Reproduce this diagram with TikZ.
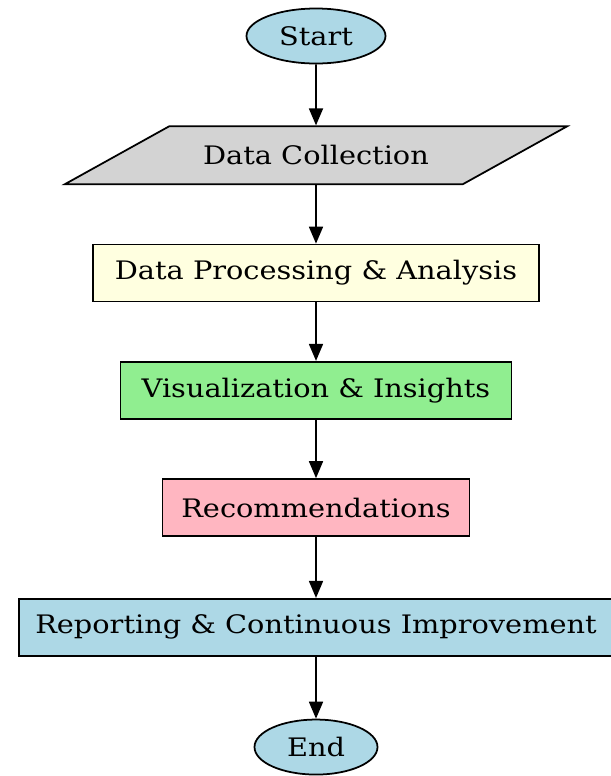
\documentclass[tikz,border=0pt]{standalone}
\usepackage{fontspec}
\setmainfont{DejaVu Serif}[FakeStretch=1.13]
\usepackage{tikz}
\usetikzlibrary{positioning,shapes.geometric,arrows.meta}
\definecolor{lblue}{RGB}{173,216,230}
\definecolor{lgray}{RGB}{211,211,211}
\definecolor{lyellow}{RGB}{255,255,224}
\definecolor{lgreen}{RGB}{144,238,144}
\definecolor{lpink}{RGB}{255,182,193}
\tikzset{flowbox/.style={draw, line width=1pt, rectangle, minimum height=1.14cm, font=\fontsize{14.5}{17}\selectfont},
  flowend/.style={flowbox, ellipse, fill=lblue, minimum height=1.1cm},
  flowdata/.style={flowbox, trapezium, trapezium left angle=20.4, trapezium right angle=159.6, trapezium stretches, fill=lgray, minimum height=1.16cm},
  flowarrow/.style={-{Triangle[length=0.34cm, width=0.28cm]}, line width=1pt}}
\begin{document}
\begin{tikzpicture}[node distance=1.17cm]
\useasboundingbox (0,0) rectangle (12.2,-15.52);
\node[flowend, minimum width=2.78cm] (start) at (6.32,-0.72) {Start};
\node[flowdata, minimum width=10.06cm, below=1.22cm of start] (collect) {Data Collection};
\node[flowbox, fill=lyellow, minimum width=8.92cm, below=of collect] (process) {Data Processing \& Analysis};
\node[flowbox, fill=lgreen, minimum width=7.82cm, below=of process] (visual) {Visualization \& Insights};
\node[flowbox, fill=lpink, minimum width=6.14cm, below=of visual] (recommend) {Recommendations};
\node[flowbox, fill=lblue, minimum width=11.88cm, below=1.22cm of recommend] (report) {Reporting \& Continuous Improvement};
\node[flowend, minimum width=2.46cm, below=1.24cm of report] (finish) {End};
\draw[flowarrow] (start) -- (collect);
\draw[flowarrow] (collect) -- (process);
\draw[flowarrow] (process) -- (visual);
\draw[flowarrow] (visual) -- (recommend);
\draw[flowarrow] (recommend) -- (report);
\draw[flowarrow] (report) -- (finish);
\end{tikzpicture}
\end{document}
